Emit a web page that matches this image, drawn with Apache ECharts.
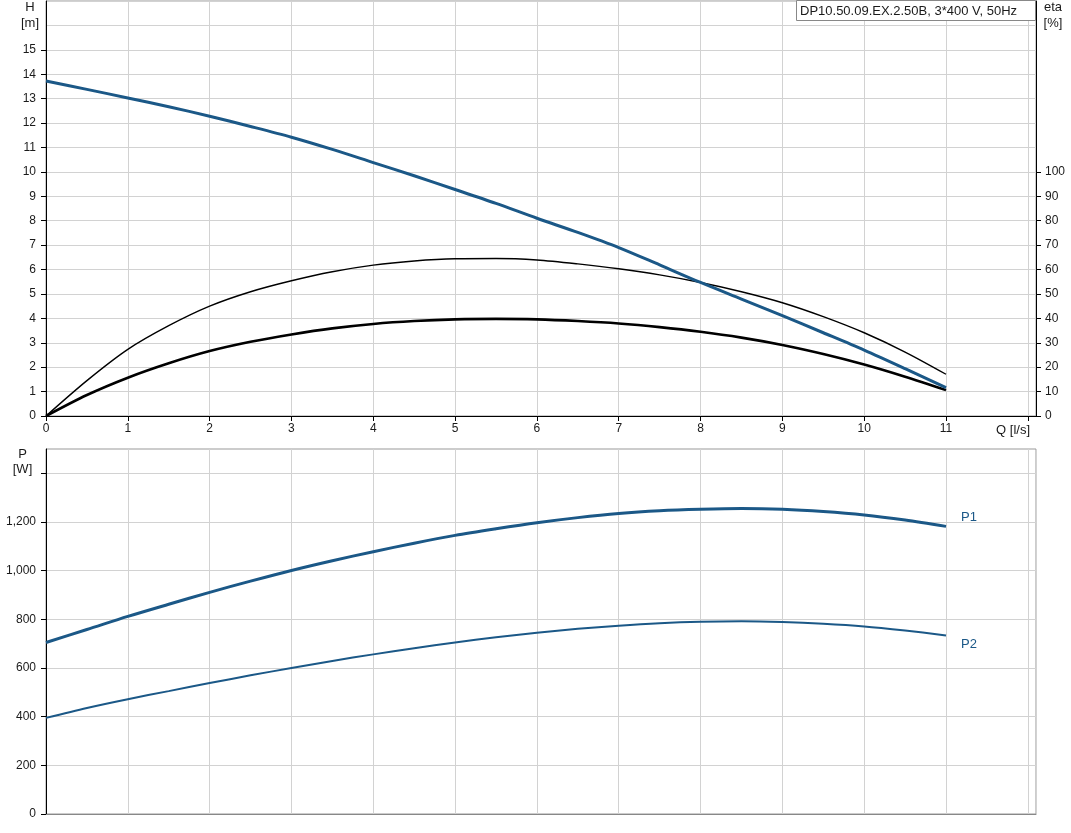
<!DOCTYPE html>
<html><head><meta charset="utf-8">
<script src="https://cdn.jsdelivr.net/npm/echarts@6/dist/echarts.min.js"></script>
<style>html,body{margin:0;padding:0;background:#fff}#c{width:1071px;height:833px}</style>
</head><body><div id="c"></div>
<script>
// ---- data ----
const flow = [0, 0.5, 1, 1.5, 2, 2.5, 3, 3.5, 4, 4.5, 5, 5.5, 6, 6.5, 7, 7.5, 8, 8.5, 9, 9.5, 10, 10.5, 11]; // Q [l/s]
const head = [13.72, 13.38, 13.03, 12.67, 12.28, 11.86, 11.42, 10.92, 10.38, 9.84, 9.28, 8.71, 8.10, 7.52, 6.90, 6.19, 5.47, 4.79, 4.11, 3.41, 2.70, 1.94, 1.16]; // H [m]
const etaHydraulic = [0, 14.5, 27.3, 37.0, 45.0, 50.9, 55.4, 59.1, 61.8, 63.5, 64.4, 64.5, 63.9, 62.3, 60.3, 57.8, 54.7, 50.9, 46.4, 40.7, 34.1, 26.2, 17.1]; // eta [%]
const etaTotal = [0, 8.6, 15.7, 21.6, 26.6, 30.4, 33.4, 35.9, 37.7, 38.9, 39.6, 39.8, 39.6, 38.9, 37.9, 36.4, 34.5, 32.1, 29.1, 25.4, 21.1, 16.1, 10.6];        // eta [%]
const powerP1 = [705, 758, 812, 862, 911, 957, 1001, 1041, 1078, 1113, 1145, 1172, 1197, 1218, 1235, 1246, 1252, 1255, 1252, 1243, 1229, 1208, 1182]; // P1 [W]
const powerP2 = [395, 436, 472, 505, 538, 570, 600, 629, 656, 681, 705, 726, 745, 761, 774, 784, 790, 792, 789, 782, 771, 754, 734];               // P2 [W]

const qTicks = [0,1,2,3,4,5,6,7,8,9,10,11,12];
const qLabels = [0,1,2,3,4,5,6,7,8,9,10,11];
const hTicks = [0,1,2,3,4,5,6,7,8,9,10,11,12,13,14,15];
const etaTicks = [0,10,20,30,40,50,60,70,80,90,100];
const pTicks = [0,200,400,600,800,1000,1200,1400];
const pLabels = [0,200,400,600,800,1000,1200];
const pumpTitle = 'DP10.50.09.EX.2.50B, 3*400 V, 50Hz';

// ---- chart ----
const FONT = 'Liberation Sans, Arial, sans-serif';
const BLUE = '#1b5887';
const GRID = '#d2d2d2';
const TXT = '#1a1a1a';
const pairs = ys => flow.map((q, i) => [q, ys[i]]);

const chart = echarts.init(document.getElementById('c'), null, {renderer: 'canvas'});
chart.setOption({
  animation: false,
  textStyle: {fontFamily: FONT},
  grid: [
    {left: 46, width: 990, top: 1, height: 415, show: true, borderColor: '#999', borderWidth: 1, backgroundColor: 'transparent'},
    {left: 46, width: 990, top: 449, height: 365, show: true, borderColor: '#999', borderWidth: 1, backgroundColor: 'transparent'}
  ],
  xAxis: [
    {gridIndex: 0, type: 'value', min: 0, max: 12.1, interval: 1,
     axisLine: {show: true, onZero: false, lineStyle: {color: '#000', width: 1}},
     axisTick: {show: true, length: 5, customValues: qTicks, lineStyle: {color: '#000'}},
     axisLabel: {customValues: qLabels, color: TXT, fontSize: 12, margin: 7, fontFamily: FONT},
     splitLine: {show: true, lineStyle: {color: GRID, width: 1}}},
    {gridIndex: 1, type: 'value', min: 0, max: 12.1, interval: 1,
     axisLine: {show: true, onZero: false, lineStyle: {color: '#888', width: 1}},
     axisTick: {show: false}, axisLabel: {show: false},
     splitLine: {show: true, lineStyle: {color: GRID, width: 1}}}
  ],
  yAxis: [
    {gridIndex: 0, type: 'value', min: 0, max: 17, interval: 1, position: 'left',
     axisLine: {show: true, onZero: false, lineStyle: {color: '#000', width: 1}},
     axisTick: {show: true, length: 5, customValues: hTicks, lineStyle: {color: '#000'}},
     axisLabel: {customValues: hTicks, color: TXT, fontSize: 12, margin: 10, fontFamily: FONT},
     splitLine: {show: false}},
    {gridIndex: 0, type: 'value', min: 0, max: 170, interval: 10, position: 'right',
     axisLine: {show: true, onZero: false, lineStyle: {color: '#000', width: 1}},
     axisTick: {show: true, length: 5, customValues: etaTicks, lineStyle: {color: '#000'}},
     axisLabel: {customValues: etaTicks, color: TXT, fontSize: 12, margin: 9, fontFamily: FONT},
     splitLine: {show: false}},
    {gridIndex: 0, type: 'value', min: 0, max: 17, interval: 1, position: 'left',
     axisLine: {show: false}, axisTick: {show: false}, axisLabel: {show: false},
     splitLine: {show: true, lineStyle: {color: GRID, width: 1}}},
    {gridIndex: 1, type: 'value', min: 0, max: 1500, interval: 200, position: 'left',
     axisLine: {show: true, onZero: false, lineStyle: {color: '#000', width: 1}},
     axisTick: {show: true, length: 5, customValues: pTicks, lineStyle: {color: '#000'}},
     axisLabel: {customValues: pLabels, color: TXT, fontSize: 12, margin: 10, fontFamily: FONT,
                 formatter: v => Number(v).toLocaleString('en-US')},
     splitLine: {show: true, lineStyle: {color: GRID, width: 1}}}
  ],
  series: [
    {name: 'H', type: 'line', xAxisIndex: 0, yAxisIndex: 0, data: pairs(head), smooth: 0.3,
     symbol: 'none', lineStyle: {color: BLUE, width: 3}, z: 5},
    {name: 'eta', type: 'line', xAxisIndex: 0, yAxisIndex: 1, data: pairs(etaHydraulic), smooth: 0.3,
     symbol: 'none', lineStyle: {color: '#000', width: 1.4}, z: 4},
    {name: 'eta total', type: 'line', xAxisIndex: 0, yAxisIndex: 1, data: pairs(etaTotal), smooth: 0.3,
     symbol: 'none', lineStyle: {color: '#000', width: 2.6}, z: 4},
    {name: 'P1', type: 'line', xAxisIndex: 1, yAxisIndex: 3, data: pairs(powerP1), smooth: 0.3,
     symbol: 'none', lineStyle: {color: BLUE, width: 3},
     endLabel: {show: true, formatter: '{a}', color: BLUE, fontSize: 13, fontFamily: FONT, offset: [7, -9]}},
    {name: 'P2', type: 'line', xAxisIndex: 1, yAxisIndex: 3, data: pairs(powerP2), smooth: 0.3,
     symbol: 'none', lineStyle: {color: BLUE, width: 2},
     endLabel: {show: true, formatter: '{a}', color: BLUE, fontSize: 13, fontFamily: FONT, offset: [7, 9]}}
  ],
  graphic: [
    {type: 'text', x: 30, y: -1, style: {text: 'H\n[m]', align: 'center', verticalAlign: 'top', lineHeight: 16, font: '13px ' + FONT, fill: TXT}},
    {type: 'text', x: 1053, y: -1, style: {text: 'eta\n[%]', align: 'center', verticalAlign: 'top', lineHeight: 16, font: '13px ' + FONT, fill: TXT}},
    {type: 'text', x: 22.5, y: 447, style: {text: 'P\n[W]', align: 'center', verticalAlign: 'top', lineHeight: 15, font: '13px ' + FONT, fill: TXT}},
    {type: 'text', x: 1030, y: 430, style: {text: 'Q [l/s]', align: 'right', verticalAlign: 'middle', font: '13px ' + FONT, fill: TXT}},
    {type: 'rect', shape: {x: 796.5, y: 0.5, width: 239, height: 20}, style: {fill: '#fff', stroke: '#888', lineWidth: 1}, z: 100},
    {type: 'text', x: 800, y: 11, style: {text: pumpTitle, align: 'left', verticalAlign: 'middle', font: '13px ' + FONT, fill: TXT}, z: 101}
  ]
});
</script>
</body></html>
